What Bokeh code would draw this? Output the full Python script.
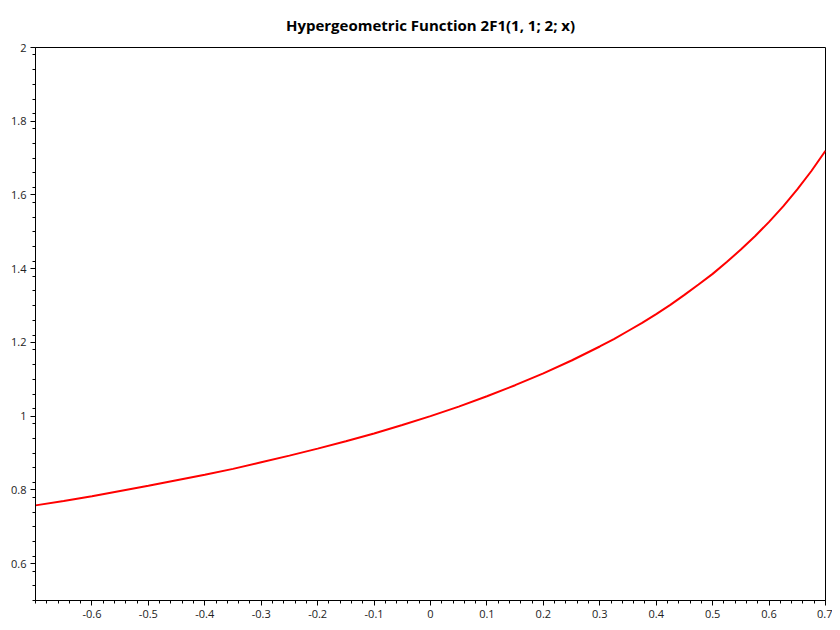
from bokeh.plotting import figure
from bokeh.models import FixedTicker, Range1d
from bokeh.embed import file_html
from bokeh.resources import INLINE

# values
x_vals = [-0.70, -0.65, -0.60, -0.55, -0.50, -0.45, -0.40, -0.35, -0.30, -0.25,
          -0.20, -0.15, -0.10, -0.05, 0.00, 0.05, 0.10, 0.15, 0.20, 0.25,
          0.30, 0.325, 0.35, 0.375, 0.40, 0.425, 0.45, 0.475, 0.50, 0.525,
          0.55, 0.575, 0.60, 0.625, 0.65, 0.675, 0.70]
y_vals = [0.758, 0.770, 0.783, 0.797, 0.811, 0.826, 0.841, 0.857, 0.875, 0.893,
          0.912, 0.932, 0.953, 0.976, 1.000, 1.026, 1.054, 1.084, 1.116, 1.151,
          1.189, 1.209, 1.231, 1.253, 1.277, 1.302, 1.329, 1.357, 1.386, 1.418,
          1.452, 1.488, 1.527, 1.569, 1.615, 1.665, 1.720]
x_ticks = [-0.6, -0.5, -0.4, -0.3, -0.2, -0.1, 0.0, 0.1, 0.2, 0.3, 0.4, 0.5, 0.6, 0.7]
x_tick_labels = ["-0.6", "-0.5", "-0.4", "-0.3", "-0.2", "-0.1", "0", "0.1", "0.2",
                 "0.3", "0.4", "0.5", "0.6", "0.7"]
y_ticks = [0.6, 0.8, 1.0, 1.2, 1.4, 1.6, 1.8, 2.0]
y_tick_labels = ["0.6", "0.8", "1", "1.2", "1.4", "1.6", "1.8", "2"]
title_text = "Hypergeometric Function 2F1(1, 1; 2; x)"

FONT = "Open Sans"

p = figure(width=832, height=622, output_backend="svg", toolbar_location=None,
           x_range=Range1d(-0.7, 0.7), y_range=Range1d(0.5, 2.0),
           min_border_left=35, min_border_right=7, min_border_top=46, min_border_bottom=22)

p.title.text = title_text
p.title.align = "center"
p.title.text_font = FONT
p.title.text_font_size = "15px"
p.title.text_font_style = "bold"
p.title.text_color = "#000000"
p.title.offset = 0
p.title.standoff = 25

p.xgrid.visible = False
p.ygrid.visible = False
p.outline_line_color = "#000000"
p.outline_line_width = 1
p.background_fill_color = "white"
p.border_fill_color = "white"

minor_x = [round(-0.7 + i * 0.02, 2) for i in range(71)]
minor_y = [round(0.5 + i * 0.04, 2) for i in range(38)]

p.xaxis.ticker = FixedTicker(ticks=x_ticks, minor_ticks=minor_x)
p.xaxis.major_label_overrides = {t: l for t, l in zip(x_ticks, x_tick_labels)}
p.yaxis.ticker = FixedTicker(ticks=y_ticks, minor_ticks=minor_y)
p.yaxis.major_label_overrides = {t: l for t, l in zip(y_ticks, y_tick_labels)}

for ax in (p.xaxis, p.yaxis):
    ax.axis_line_color = "#000000"
    ax.major_tick_line_color = "#000000"
    ax.minor_tick_line_color = "#000000"
    ax.major_tick_in = 0
    ax.major_tick_out = 5
    ax.minor_tick_in = 0
    ax.minor_tick_out = 3
    ax.major_label_text_font = FONT
    ax.major_label_text_font_size = "11px"
    ax.major_label_text_color = "#222222"
    ax.major_label_standoff = 4

p.line(x_vals, y_vals, line_color="#ff0000", line_width=2)

open("out.html", "w").write(file_html(p, INLINE))
